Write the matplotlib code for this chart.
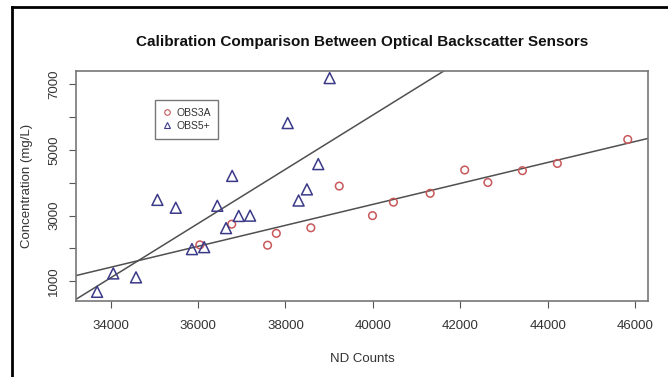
import numpy as np
import matplotlib
matplotlib.use("Agg")
import matplotlib.pyplot as plt
from matplotlib.lines import Line2D

plt.rcParams['font.family'] = ['Liberation Sans', 'DejaVu Sans']

# OBS3A readings (circles)
obs3a_counts = [36040, 36770, 37590, 37790, 38580, 39230, 39990, 40470,
                41310, 42100, 42630, 43420, 44220, 45830]
obs3a_conc = [2110, 2740, 2100, 2460, 2630, 3900, 3000, 3410,
              3680, 4390, 4010, 4370, 4590, 5320]

# OBS5+ readings (triangles)
obs5_counts = [33690, 34060, 34580, 35070, 35490, 35860, 36140, 36440,
               36640, 36780, 36930, 37190, 38050, 38300, 38490, 38750, 39010]
obs5_conc = [680, 1240, 1120, 3480, 3240, 1980, 2040, 3300,
             2620, 4210, 2990, 3000, 5820, 3460, 3800, 4570, 7190]

xticks = [34000, 36000, 38000, 40000, 42000, 44000, 46000]
yticks = [1000, 2000, 3000, 4000, 5000, 6000, 7000]
ylabels = ['1000', '', '3000', '', '5000', '', '7000']

red = '#c8585a'
blue = '#3a3a88'

fig = plt.figure(figsize=(6.68, 3.77), dpi=100)
ax = fig.add_axes([0.1133, 0.2016, 0.8572, 0.6109])

ax.scatter(obs3a_counts, obs3a_conc, s=30, facecolors='none', edgecolors=red, linewidths=1.1, marker='o', zorder=3)
ax.scatter(obs5_counts, obs5_conc, s=62, facecolors='none', edgecolors=blue, linewidths=1.1, marker='^', zorder=3)

xlim = (33200, 46300)
ylim = (400, 7415)
ax.set_xlim(xlim)
ax.set_ylim(ylim)

# fitted lines (like abline(lm(...)))
xs = np.array(xlim)
for cx, cy in [(obs3a_counts, obs3a_conc), (obs5_counts, obs5_conc)]:
    b, a = np.polyfit(cx, cy, 1)
    ax.plot(xs, a + b * xs, color='#505050', lw=1.1, zorder=2)

ax.set_xticks(xticks)
ax.set_yticks(yticks)
ax.set_yticklabels(ylabels, rotation=90, va='center')
ax.tick_params(direction='out', length=5, width=0.8, colors='#555555', labelcolor='#333333', labelsize=9.5)
ax.tick_params(axis='x', pad=9)
ax.tick_params(axis='y', pad=6)
for s in ax.spines.values():
    s.set_color('#777777')
    s.set_linewidth(1.2)

ax.set_title('Calibration Comparison Between Optical Backscatter Sensors',
             fontsize=11, fontweight='bold', color='#111111', pad=18)
ax.set_xlabel('ND Counts', fontsize=9.5, color='#333333', labelpad=15)
ax.set_ylabel('Concentration (mg/L)', fontsize=9.5, color='#333333', labelpad=11)

h1 = Line2D([], [], marker='o', ls='none', mfc='none', mec=red, ms=4, mew=0.8)
h2 = Line2D([], [], marker='^', ls='none', mfc='none', mec=blue, ms=4, mew=0.8)
leg = ax.legend([h1, h2], ['OBS3A', 'OBS5+'], loc='upper left', bbox_to_anchor=(0.138, 0.873),
                fontsize=7.5, frameon=True, fancybox=False, handlelength=0.8, handletextpad=0.5,
                borderpad=0.75, labelspacing=0.3, borderaxespad=0)
leg.get_frame().set_edgecolor('#555555')
leg.get_frame().set_linewidth(1.0)
for t in leg.get_texts():
    t.set_color('#333333')

# black frame on left and top
fig.add_artist(Line2D([12 / 668, 12 / 668], [0, 1 - 6.5 / 377], color='black', lw=2))
fig.add_artist(Line2D([12 / 668, 1], [1 - 6.5 / 377, 1 - 6.5 / 377], color='black', lw=2))

fig.savefig('out.png', dpi=100)
